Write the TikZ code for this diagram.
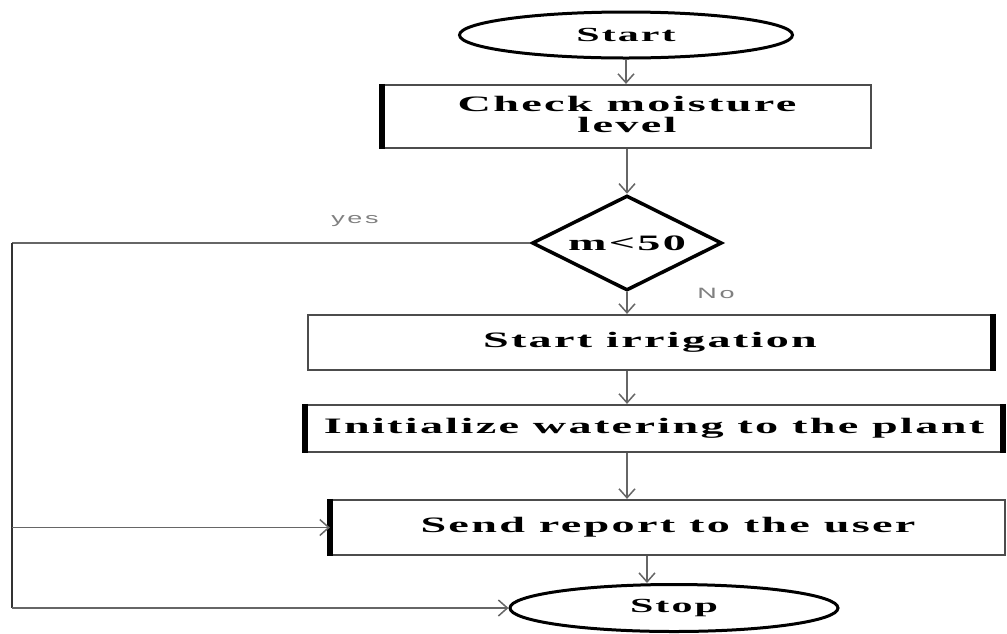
\documentclass[tikz,border=0pt]{standalone}
\usepackage{fontspec}
\usepackage{graphicx}
\setmainfont{Liberation Serif}[LetterSpace=5]
\newfontfamily\lblfont{Liberation Sans}[LetterSpace=10]
\newcommand\widetxt[1]{\scalebox{2.1}[1]{#1}}
\newcommand\widelbl[1]{\scalebox{1.8}[1]{#1}}
\usetikzlibrary{shapes.geometric,arrows.meta}
\begin{document}
\begin{tikzpicture}[x=1pt,y=-1pt,
  procbox/.style={draw=black!70, line width=2.2pt, fill=white, inner sep=0pt,
    align=center, font=\bfseries\fontsize{22}{26}\selectfont},
  terminal/.style={ellipse, draw=black, line width=3pt, fill=white, inner sep=0pt,
    font=\bfseries\fontsize{20}{24}\selectfont},
  decision/.style={diamond, aspect=2, draw=black, line width=3.5pt, fill=white, inner sep=0pt,
    font=\bfseries\fontsize{22}{26}\selectfont},
  conn/.style={draw=black!60, line width=1.5pt},
  arr/.style={conn, -{Straight Barb[length=9pt,width=16pt,line width=1.5pt]}},
  lbl/.style={text=black!50, inner sep=0pt, font=\lblfont\fontsize{15}{18}\selectfont},
  thickside/.style={draw=black, line width=6pt}]
\useasboundingbox (0,0) rectangle (1007,633);

\node[terminal, minimum width=333pt, minimum height=46pt] (start) at (626,35) {\widetxt{Start}};
\node[procbox, minimum width=488pt, minimum height=63pt] (check) at (627,116.5)
  {\widetxt{\begin{tabular}{@{}c@{}}Check moisture\\[-5pt]level\end{tabular}}};
\node[decision, minimum width=190pt, minimum height=95pt] (dec) at (627,243) {\widetxt{m<50}};
\node[procbox, minimum width=684pt, minimum height=55pt] (irr) at (650,342.5) {\widetxt{Start irrigation}};
\node[procbox, minimum width=696pt, minimum height=47pt] (init) at (654,428.5) {\widetxt{Initialize watering to the plant}};
\node[procbox, minimum width=674pt, minimum height=55pt] (send) at (668,527.5) {\widetxt{Send report to the user}};
\node[terminal, minimum width=328pt, minimum height=47pt] (stop) at (674,608) {\widetxt{Stop}};

\draw[thickside] (check.north west) -- (check.south west);
\draw[thickside] (irr.north east) -- (irr.south east);
\draw[thickside] (init.north west) -- (init.south west);
\draw[thickside] (init.north east) -- (init.south east);
\draw[thickside] (send.north west) -- (send.south west);

\coordinate (yl) at (12,243);
\coordinate (yb) at (12,608);
\coordinate (ym) at (12,527.5);

\draw[arr] (start.south) -- (start.south |- check.north);
\draw[arr] (check.south -| dec.north) -- (dec.north);
\draw[arr] (dec.south) -- (dec.south |- irr.north);
\draw[arr] (dec.south |- irr.south) -- (dec.south |- init.north);
\draw[arr] (dec.south |- init.south) -- (dec.south |- send.north);
\draw[arr] (send.south -| 647,0) -- (647,0 |- stop.north);
\draw[conn] (dec.west) -- (yl);
\draw[conn, draw=black!80, line width=2pt] (yl) -- (yb);
\draw[arr] (ym) -- (send.west);
\draw[arr] (yb) -- (stop.west);

\node[lbl] (yes) at (355,221) {\widelbl{yes}};
\node[lbl] (no) at (716,293) {\widelbl{No}};
\end{tikzpicture}
\end{document}
